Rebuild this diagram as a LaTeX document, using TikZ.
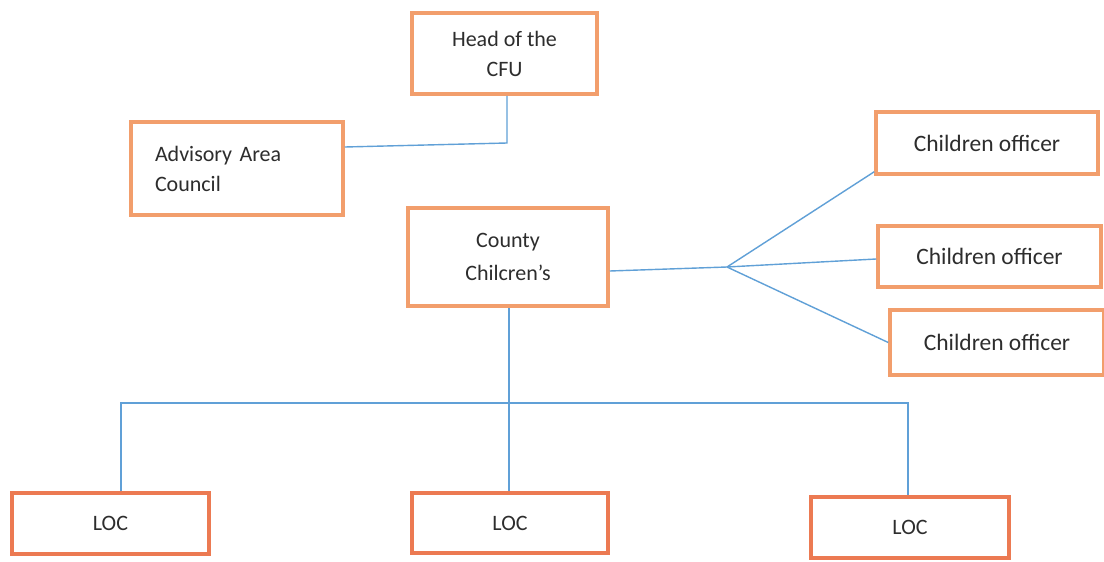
\documentclass[tikz,border=0pt]{standalone}
\usepackage{fontspec}
\setmainfont{Carlito}
\definecolor{boxorange}{RGB}{242,158,108}
\definecolor{locorange}{RGB}{236,122,82}
\definecolor{linkblue}{RGB}{96,160,215}
\definecolor{txt}{RGB}{45,45,45}
\tikzset{
  box/.style={draw=boxorange, line width=3.5pt, rectangle, inner sep=0pt, align=center, text=txt, font=\fontsize{22}{30}\selectfont},
  locbox/.style={box, draw=locorange},
  link/.style={draw=linkblue, line width=1.4pt},
}
\begin{document}
\begin{tikzpicture}[x=1pt,y=-1pt]
\useasboundingbox (0,0) rectangle (1104,562);
\fill[white] (0,0) rectangle (1104,562);
\node[box, minimum width=185pt, minimum height=81pt] (head) at (504.5,53.5) {Head of the\\CFU};
\node[box, minimum width=212pt, minimum height=93pt, text width=164pt, inner xsep=24pt, align=left] (adv) at (237,168.5) {Advisory Area\\Council};
\node[box, minimum width=200pt, minimum height=98pt, font=\fontsize{22}{33}\selectfont] (county) at (508,257) {County\\Chilcren’s};
\node[box, minimum width=222pt, minimum height=62pt, font=\fontsize{23.5}{28}\selectfont] (co1) at (987,143) {Children officer};
\node[box, minimum width=223pt, minimum height=61pt, font=\fontsize{23.5}{28}\selectfont] (co2) at (989.5,256.5) {Children officer};
\node[box, minimum width=214pt, minimum height=65pt, font=\fontsize{23.5}{28}\selectfont] (co3) at (997,342.5) {Children officer};
\node[locbox, minimum width=197pt, minimum height=61pt] (loc1) at (110.5,523.5) {LOC};
\node[locbox, minimum width=196pt, minimum height=60pt] (loc2) at (510,523) {LOC};
\node[locbox, minimum width=198pt, minimum height=61pt] (loc3) at (910,527.5) {LOC};
% connectors
\coordinate (j1) at (507,143);
\coordinate (ja) at (0,147);
\draw[link] (j1 |- head.south) -- (j1) -- (adv.east |- ja);
\coordinate (cy) at (0,271);
\coordinate (jc) at (727,267);
\draw[link] (county.east |- cy) -- (jc);
\draw[link] (jc) -- ([yshift=4pt]co1.south west);
\draw[link] (jc) -- ([yshift=-2.5pt]co2.west);
\draw[link] (jc) -- (co3.west);
\coordinate (hb) at (509,403);
\coordinate (l1) at (121,403);
\coordinate (l3) at (908,403);
\draw[link] (county.south -| hb) -- (loc2.north -| hb);
\draw[link] (l1 |- loc1.north) -- (l1) -- (l3) -- (l3 |- loc3.north);
\end{tikzpicture}
\end{document}
